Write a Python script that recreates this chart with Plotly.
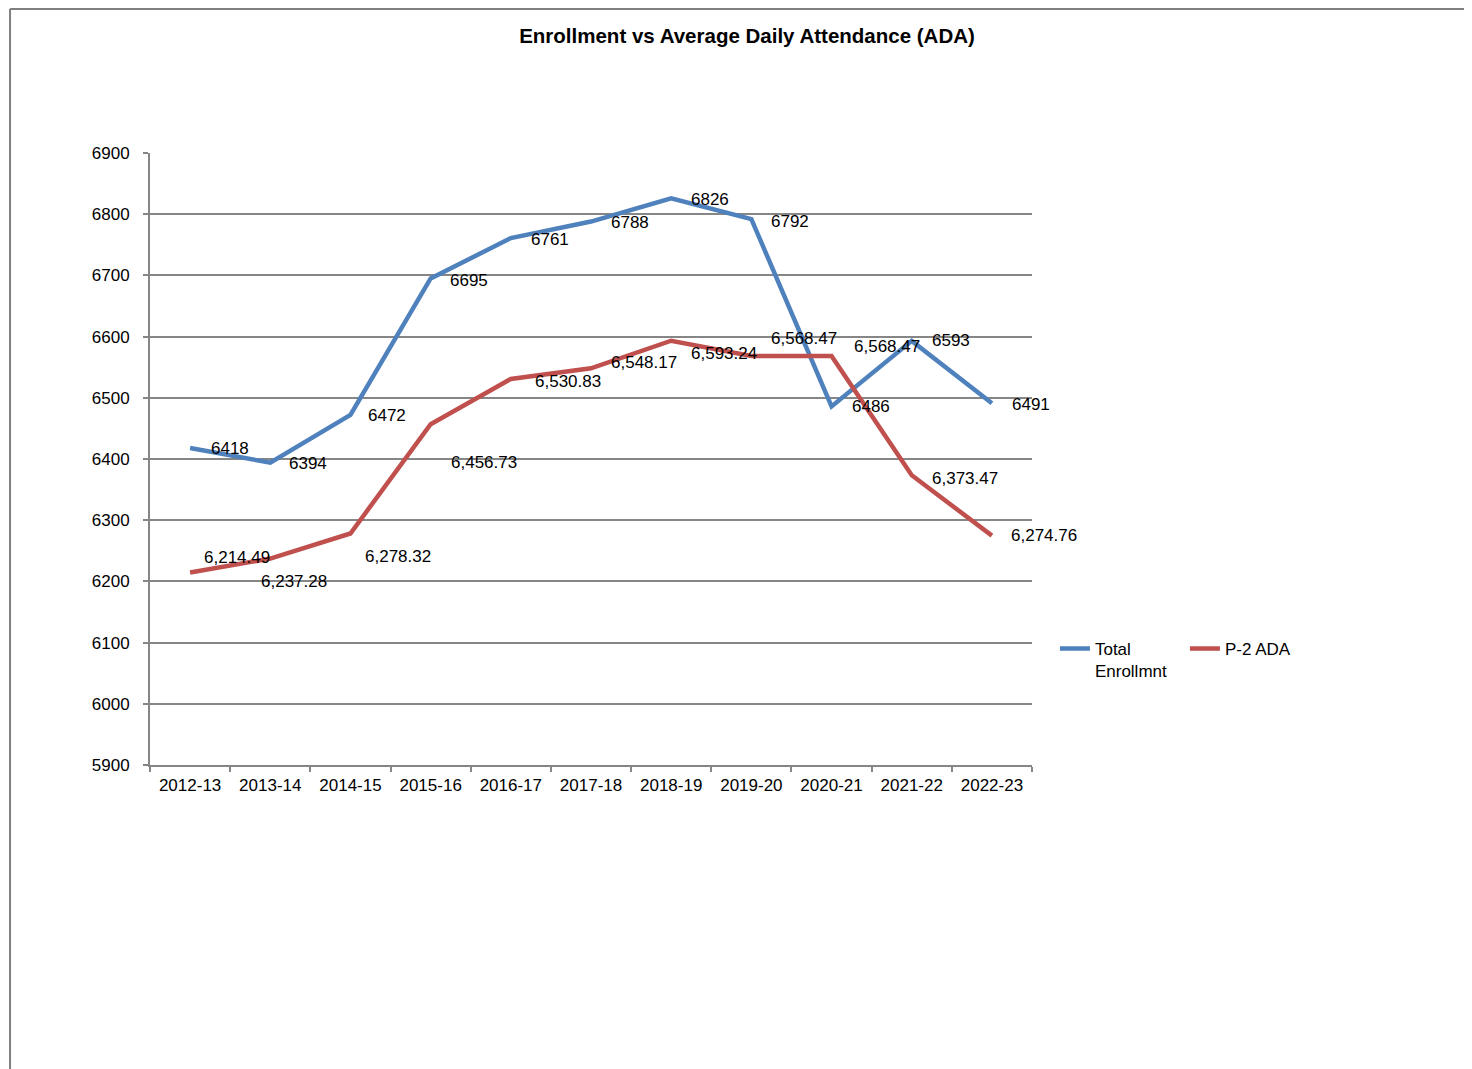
import plotly.graph_objects as go

years = ["2012-13", "2013-14", "2014-15", "2015-16", "2016-17", "2017-18",
         "2018-19", "2019-20", "2020-21", "2021-22", "2022-23"]
enrollment = [6418, 6394, 6472, 6695, 6761, 6788, 6826, 6792, 6486, 6593, 6491]
ada = [6214.49, 6237.28, 6278.32, 6456.73, 6530.83, 6548.17, 6593.24,
       6568.47, 6568.47, 6373.47, 6274.76]

enr_labels = [str(v) for v in enrollment]
ada_labels = [f"{v:,.2f}" for v in ada]

# label offsets in pixels (right, down) relative to the point
enr_dx = [20, 18, 17, 18, 19, 19, 19, 19, 19, 19, 19]
enr_dy = [1, 1, 1, 2, 1, 1, 1, 2, 0, 0, 1]
ada_dx = [13, -10, 14, 19, 23, 19, 19, 19, 21, 19, 18]
ada_dy = [-15, 23, 23, 38, 3, -6, 13, -17, -9, 3, 0]

BLUE = "#4F81BD"
RED = "#C0504D"
GRID = "#868686"
FONT = "Liberation Sans, Arial, sans-serif"

W, H = 1464, 1061

fig = go.Figure()
fig.add_trace(go.Scatter(x=years, y=enrollment, mode="lines",
                         name="Total<br>Enrollmnt",
                         line=dict(color=BLUE, width=4.5)))
fig.add_trace(go.Scatter(x=years, y=ada, mode="lines", name="P-2 ADA",
                         line=dict(color=RED, width=4.5)))

annotations = []
for x, y, t, dx, dy in zip(years, enrollment, enr_labels, enr_dx, enr_dy):
    annotations.append(dict(x=x, y=y, xref="x", yref="y", text=t, showarrow=False,
                            xanchor="left", yanchor="middle", xshift=dx - 1, yshift=-dy,
                            font=dict(family=FONT, size=17, color="#000000")))
for x, y, t, dx, dy in zip(years, ada, ada_labels, ada_dx, ada_dy):
    annotations.append(dict(x=x, y=y, xref="x", yref="y", text=t, showarrow=False,
                            xanchor="left", yanchor="middle", xshift=dx - 1, yshift=-dy,
                            font=dict(family=FONT, size=17, color="#000000")))

fig.update_layout(
    width=W, height=H,
    margin=dict(l=142, r=440, t=145, b=304),
    paper_bgcolor="white", plot_bgcolor="white",
    font=dict(family=FONT, size=17, color="#000000"),
    title=dict(text="<b>Enrollment vs Average Daily Attendance (ADA)</b>",
               x=739 / W, xanchor="center", xref="container",
               y=1 - 28 / H, yanchor="middle", yref="container",
               font=dict(family=FONT, size=20.5, color="#000000")),
    showlegend=True,
    legend=dict(orientation="h", x=1.026, y=0.219, xanchor="left", yanchor="top",
                valign="top", font=dict(family=FONT, size=17, color="#000000"),
                bgcolor="rgba(0,0,0,0)", entrywidth=85, entrywidthmode="pixels",
                itemwidth=30),
    annotations=annotations,
    shapes=[
        dict(type="line", xref="paper", yref="paper", x0=-0.1587, x1=1.7,
             y0=1.2353, y1=1.2353, line=dict(color="#808080", width=2)),
        dict(type="line", xref="paper", yref="paper", x0=-0.1587, x1=-0.1587,
             y0=1.2353, y1=-0.6, line=dict(color="#808080", width=2)),
    ],
)

fig.update_xaxes(type="category", range=[-0.5, 10.5], showgrid=False,
                 showline=True, linecolor=GRID, linewidth=2,
                 ticks="outside", tickson="boundaries", ticklen=5,
                 tickcolor=GRID, tickwidth=1.5, ticklabelstandoff=4,
                 tickfont=dict(family=FONT, size=17, color="#000000"))
fig.update_yaxes(range=[5900, 6900], dtick=100, tick0=5900, showgrid=True,
                 gridcolor=GRID, gridwidth=2, zeroline=False,
                 showline=True, linecolor=GRID, linewidth=2,
                 ticks="outside", ticklen=5, tickcolor=GRID, tickwidth=2,
                 ticklabelstandoff=10,
                 tickfont=dict(family=FONT, size=17, color="#000000"))

fig.write_html("out.html")
